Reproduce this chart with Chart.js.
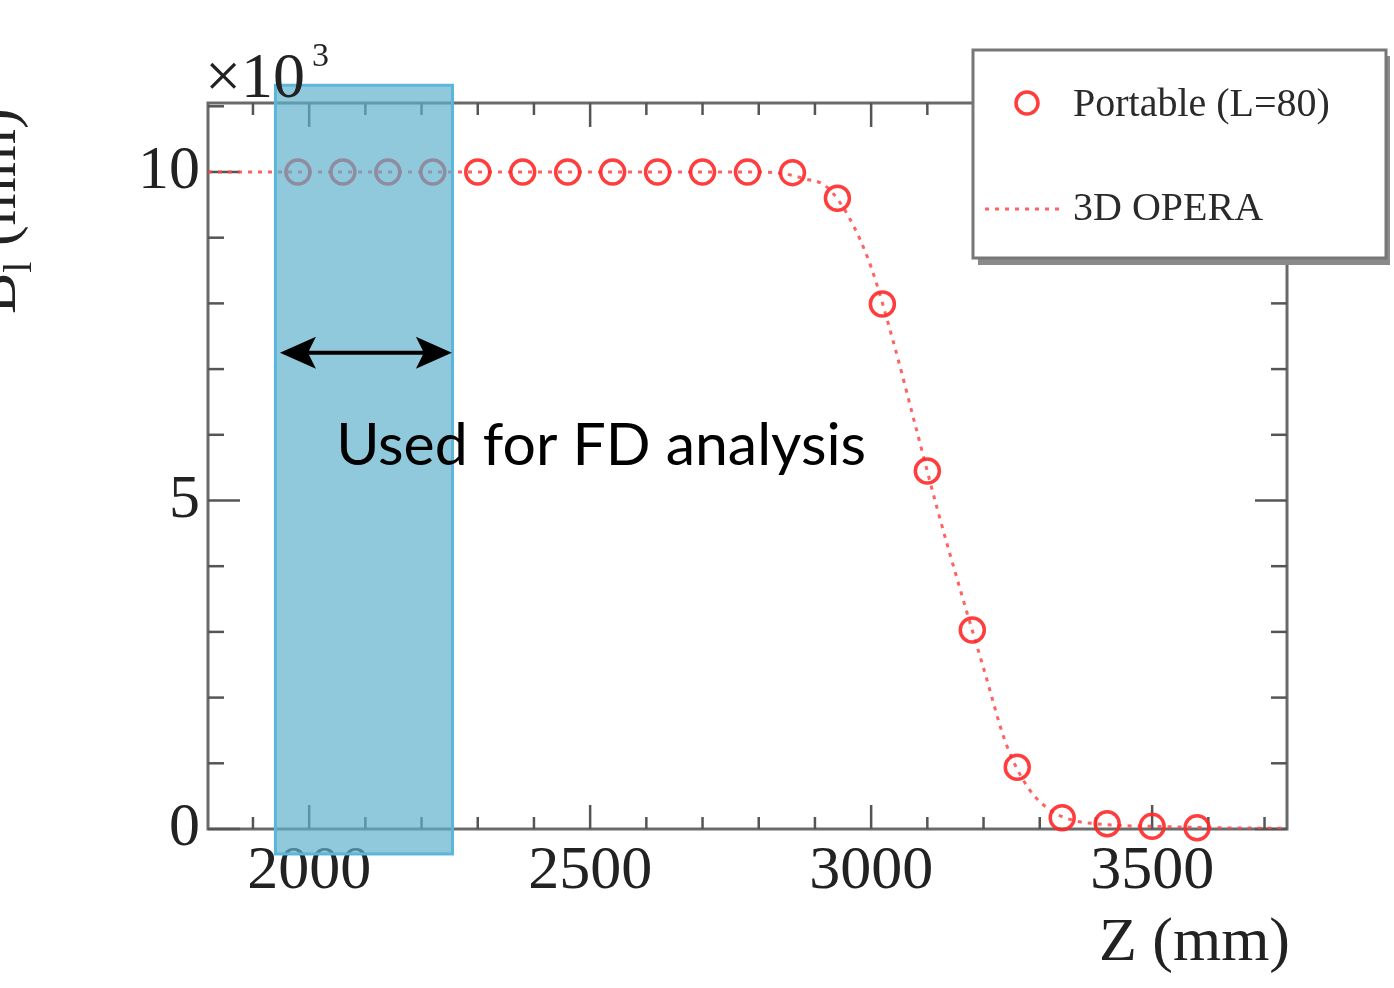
<!DOCTYPE html>
<html><head><meta charset="utf-8">
<script src="https://cdn.jsdelivr.net/npm/chart.js@4.4.1/dist/chart.umd.min.js"></script>
<style>html,body{margin:0;padding:0;background:#fff;overflow:hidden}canvas{display:block}</style>
</head><body>
<canvas id="c" width="1394" height="988" style="width:1394px;height:988px"></canvas>
<script>
// ---- data ----
const portableZ = [1980,2060,2140,2220,2300,2380,2460,2540,2620,2700,2780,2860,2940,3020,3100,3180,3260,3340,3420,3500,3580];
const portableB = [10.0,10.0,10.0,10.0,10.0,10.0,10.0,10.0,10.0,10.0,10.0,9.99,9.6,7.99,5.45,3.03,0.94,0.17,0.08,0.04,0.02];
const operaZ = [1820,1900,2000,2100,2200,2300,2400,2500,2600,2700,2780,2840,2880,2920,2960,3000,3040,3080,3120,3160,3200,3240,3280,3320,3360,3400,3450,3500,3600,3740];
const operaB = [10.0,10.0,10.0,10.0,10.0,10.0,10.0,10.0,10.0,10.0,10.0,9.98,9.9,9.78,9.32,8.55,7.4,6.1,4.8,3.6,2.45,1.3,0.62,0.28,0.13,0.08,0.05,0.04,0.02,0.01];
const xMajorTicks = [2000,2500,3000,3500];
const yMajorTicks = [0,5,10];
const xMinorTicks = [1900,2000,2100,2200,2300,2400,2500,2600,2700,2800,2900,3000,3100,3200,3300,3400,3500,3600,3700];
const yMinorTicks = [0,1,2,3,4,5,6,7,8,9,10,11];
const seriesNames = ['Portable (L=80)','3D OPERA'];
const xTitle = 'Z (mm)';
const yTitleMain = 'B', yTitleSub = 'l', yTitleUnit = ' (mm)';
const yExponent = '3';
const noteText = 'Used for FD analysis';
const fdBand = {zFrom:1940, zTo:2255, bFrom:-0.38, bTo:11.32};
const fdArrow = {zFrom:1948, zTo:2254, b:7.25};
const notePos = {z:2048, b:5.54};
const xRange = [1820,3740], yRange = [0,11.05];

const RED = 'rgba(255,40,40,0.9)';
const SERIF = '"Liberation Serif","DejaVu Serif",serif';

function line(ctx,x1,y1,x2,y2){ctx.beginPath();ctx.moveTo(x1,y1);ctx.lineTo(x2,y2);ctx.stroke();}

const framePlugin = {
  id:'frame',
  beforeDatasetsDraw(chart){
    const ctx=chart.ctx, {left,right,top,bottom}=chart.chartArea;
    const X=v=>chart.scales.x.getPixelForValue(v), Y=v=>chart.scales.y.getPixelForValue(v);
    ctx.save();
    ctx.strokeStyle='#6a6a6a'; ctx.lineWidth=3;
    ctx.strokeRect(left,top,right-left,bottom-top);
    ctx.strokeStyle='#555'; ctx.lineWidth=2.5;
    xMinorTicks.forEach(v=>{const L=xMajorTicks.includes(v)?24:12;const p=X(v);line(ctx,p,bottom,p,bottom-L);line(ctx,p,top,p,top+L);});
    yMinorTicks.forEach(v=>{const L=yMajorTicks.includes(v)?32:16;const p=Y(v);line(ctx,left,p,left+L,p);line(ctx,right,p,right-L,p);});
    ctx.restore();
  },
  afterDatasetsDraw(chart){
    const ctx=chart.ctx;
    const X=v=>chart.scales.x.getPixelForValue(v), Y=v=>chart.scales.y.getPixelForValue(v);
    ctx.save();
    // FD band
    const bx1=X(fdBand.zFrom), bx2=X(fdBand.zTo), by1=Y(fdBand.bTo), by2=Y(fdBand.bFrom);
    ctx.fillStyle='rgba(94,175,204,0.69)';
    ctx.fillRect(bx1,by1,bx2-bx1,by2-by1);
    ctx.strokeStyle='rgba(90,182,218,1)'; ctx.lineWidth=3;
    ctx.strokeRect(bx1,by1,bx2-bx1,by2-by1);
    // arrow
    const ax1=X(fdArrow.zFrom), ax2=X(fdArrow.zTo), ay=Y(fdArrow.b);
    ctx.strokeStyle='#000'; ctx.fillStyle='#000'; ctx.lineWidth=4;
    line(ctx,ax1+20,ay,ax2-20,ay);
    const head=(tip,dir)=>{ctx.beginPath();ctx.moveTo(tip,ay);ctx.lineTo(tip+dir*36,ay-16);ctx.lineTo(tip+dir*28,ay);ctx.lineTo(tip+dir*36,ay+16);ctx.closePath();ctx.fill();};
    head(ax1,1); head(ax2,-1);
    // note
    let fs=60; ctx.font=fs+'px Lato'; const w=ctx.measureText(noteText).width; fs=fs*530/w;
    ctx.font=fs+'px Lato'; ctx.textAlign='left'; ctx.textBaseline='alphabetic'; ctx.fillStyle='#000';
    ctx.fillText(noteText,X(notePos.z),Y(notePos.b));
    // legend box
    ctx.fillStyle='#8a8a8a';
    ctx.fillRect(978,254,412,11); ctx.fillRect(1384,56,6,209);
    ctx.fillStyle='#fff'; ctx.fillRect(973,50,413,208);
    ctx.strokeStyle='#777'; ctx.lineWidth=3; ctx.strokeRect(973,50,413,208);
    ctx.strokeStyle=RED; ctx.lineWidth=3.5; ctx.beginPath(); ctx.arc(1027,103,11,0,Math.PI*2); ctx.stroke();
    ctx.lineWidth=3; ctx.setLineDash([4,6]); ctx.strokeStyle='rgba(255,70,70,0.85)'; line(ctx,985,209,1064,209); ctx.setLineDash([]);
    ctx.fillStyle='#2a2a2a'; ctx.font='40px '+SERIF; ctx.textAlign='left';
    ctx.fillText(seriesNames[0],1073,116);
    ctx.fillText(seriesNames[1],1073,220);
    // exponent label
    ctx.fillStyle='#222'; ctx.font='64px '+SERIF;
    ctx.fillText('\u00d710',205,97);
    ctx.font='34px '+SERIF; ctx.fillText(yExponent,312,66);
    // x title
    ctx.font='62px '+SERIF; ctx.textAlign='right'; ctx.fillText(xTitle,1290,960);
    // y title (rotated, partly off-canvas)
    ctx.translate(15,314); ctx.rotate(-Math.PI/2); ctx.textAlign='left';
    ctx.font='62px '+SERIF; ctx.fillText(yTitleMain,0,0); let off=ctx.measureText(yTitleMain).width;
    ctx.font='40px '+SERIF; ctx.fillText(yTitleSub,off,16); off+=ctx.measureText(yTitleSub).width;
    ctx.font='62px '+SERIF; ctx.fillText(yTitleUnit,off,0);
    ctx.restore();
  }
};

new Chart(document.getElementById('c'),{
  type:'scatter',
  data:{datasets:[
    {label:seriesNames[0],data:portableZ.map((z,i)=>({x:z,y:portableB[i]})),showLine:false,pointStyle:'circle',pointRadius:12,pointBorderWidth:3.5,pointBorderColor:RED,pointBackgroundColor:'rgba(0,0,0,0)',borderColor:RED,backgroundColor:'rgba(0,0,0,0)',clip:false,order:0},
    {label:seriesNames[1],data:operaZ.map((z,i)=>({x:z,y:operaB[i]})),showLine:true,pointRadius:0,borderColor:'rgba(255,70,70,0.85)',borderWidth:3,borderDash:[4,6],cubicInterpolationMode:'monotone',fill:false,order:1}
  ]},
  options:{
    responsive:false, animation:false, devicePixelRatio:1,
    layout:{padding:{left:0,right:107,top:103,bottom:0}},
    plugins:{legend:{display:false},tooltip:{enabled:false}},
    scales:{
      x:{type:'linear',min:xRange[0],max:xRange[1],grid:{display:false,drawTicks:false},border:{display:false},
         afterBuildTicks:s=>{s.ticks=xMajorTicks.map(v=>({value:v}));},
         afterFit:s=>{s.height=159;},
         ticks:{font:{family:SERIF,size:62},color:'#222',padding:6,maxRotation:0,autoSkip:false,callback:v=>String(v)}},
      y:{type:'linear',min:yRange[0],max:yRange[1],grid:{display:false,drawTicks:false},border:{display:false},
         afterBuildTicks:s=>{s.ticks=yMajorTicks.map(v=>({value:v}));},
         afterFit:s=>{s.width=208;},
         ticks:{font:{family:SERIF,size:62},color:'#222',padding:8,callback:v=>String(v)}}
    }
  },
  plugins:[framePlugin]
});
</script>
</body></html>
